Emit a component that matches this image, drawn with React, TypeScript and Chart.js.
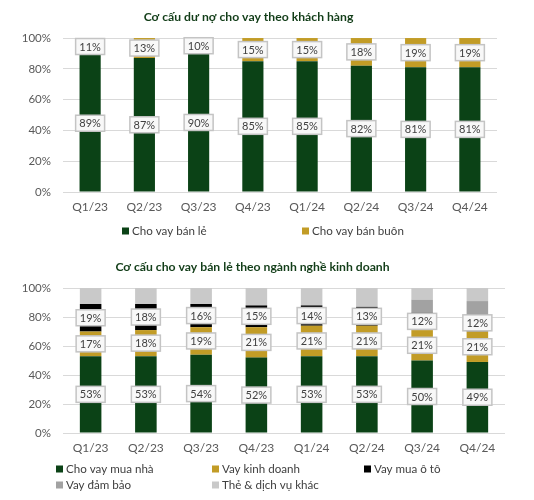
import { useEffect, useRef } from "react";
import { Chart, registerables } from "chart.js";
Chart.register(...registerables);

const FONT = "Lato, 'Open Sans', sans-serif";

const quarters = ["Q1/23", "Q2/23", "Q3/23", "Q4/23", "Q1/24", "Q2/24", "Q3/24", "Q4/24"];
const yTicks = [0, 20, 40, 60, 80, 100];

// Chart 1
const banLe = [89, 87, 90, 85, 85, 82, 81, 81];
const banBuon = [11, 13, 10, 15, 15, 18, 19, 19];

// Chart 2
const muaNha = [53, 53, 54, 52, 53, 53, 50, 49];
const kinhDoanh = [17, 18, 19, 21, 21, 21, 21, 21];
const oTo = [19, 18, 16, 15, 14, 13, 12, 12];
const damBao = [0, 0, 0, 0, 0, 0, 9, 9];
const theKhac = [11, 11, 11, 12, 12, 13, 8, 9];

const GREEN = "#0b4216";
const GOLD = "#c29c26";
const BLACK = "#000000";
const DGRAY = "#a2a2a2";
const LGRAY = "#c9c9c9";

const boxLabels = {
  id: "boxLabels",
  afterDatasetsDraw(chart: any, _args: any, opts: any) {
    const { ctx } = chart;
    const n = opts.count ?? 0;
    ctx.save();
    ctx.font = `${opts.size || 11}px ${FONT}`;
    ctx.textAlign = "center";
    ctx.textBaseline = "middle";
    chart.data.datasets.forEach((ds: any, di: number) => {
      if (di >= n) return;
      const meta = chart.getDatasetMeta(di);
      meta.data.forEach((el: any, i: number) => {
        const v = ds.data[i] as number;
        if (!v) return;
        const { x, y, base } = el.getProps(["x", "y", "base"], true);
        const cy = (y + base) / 2;
        const txt = v + "%";
        const w = Math.round(ctx.measureText(txt).width + 7);
        const h = 16;
        ctx.fillStyle = "#f8f8f8";
        ctx.fillRect(x - w / 2, cy - h / 2, w, h);
        ctx.strokeStyle = "#c4c4c4";
        ctx.lineWidth = 1.5;
        ctx.strokeRect(x - w / 2, cy - h / 2, w, h);
        ctx.fillStyle = "#404040";
        ctx.fillText(txt, x, cy + 0.5);
      });
    });
    ctx.restore();
  },
};

const gridLegend = {
  id: "gridLegend",
  afterDraw(chart: any, _args: any, opts: any) {
    const { ctx } = chart;
    const xs: number[] = opts.xs;
    const ys: number[] = opts.ys;
    ctx.save();
    ctx.font = `${opts.size || 12}px ${FONT}`;
    ctx.textAlign = "left";
    ctx.textBaseline = "middle";
    chart.data.datasets.forEach((ds: any, i: number) => {
      const col = i % xs.length;
      const row = Math.floor(i / xs.length);
      const x = xs[col];
      const y = ys[row];
      ctx.fillStyle = ds.backgroundColor;
      ctx.fillRect(x, y - 3.5, 7, 7);
      ctx.fillStyle = "#404040";
      ctx.fillText(ds.label, x + 10, y + 0.5);
    });
    ctx.restore();
  },
};

function makeConfig(
  title: string,
  datasets: any[],
  labelCount: number,
  rightPad: number,
  bottomPad: number,
  legendXs: number[],
  legendYs: number[]
): any {
  return {
    type: "bar",
    data: {
      labels: quarters,
      datasets: datasets.map((d) => ({
        ...d,
        barPercentage: 0.39,
        categoryPercentage: 1,
        borderWidth: 0,
      })),
    },
    plugins: [boxLabels, gridLegend],
    options: {
      animation: false,
      responsive: true,
      maintainAspectRatio: false,
      layout: { padding: { top: 0, left: 0, right: rightPad, bottom: bottomPad } },
      plugins: {
        legend: { display: false },
        tooltip: { enabled: false },
        title: {
          display: true,
          text: title,
          color: "#123d18",
          font: { family: FONT, size: 12.2, weight: "bold" },
          padding: { top: 10, bottom: 13.4 },
        },
        boxLabels: { count: labelCount, size: 11 },
        gridLegend: { xs: legendXs, ys: legendYs, size: 11.6 },
      },
      scales: {
        x: {
          stacked: true,
          grid: { display: false, drawTicks: false },
          border: { display: false },
          ticks: { color: "#595959", font: { family: FONT, size: 12 }, padding: 8, maxRotation: 0 },
          afterFit: (s: any) => {
            s.height = 24;
          },
        },
        y: {
          stacked: true,
          min: 0,
          max: 100,
          afterBuildTicks: (s: any) => {
            s.ticks = yTicks.map((v) => ({ value: v }));
          },
          grid: { color: "#d9d9d9", lineWidth: 1, drawTicks: false },
          border: { display: false },
          ticks: {
            color: "#595959",
            font: { family: FONT, size: 11.5 },
            padding: 12,
            callback: (v: any) => v + "%",
          },
          afterFit: (s: any) => {
            s.width = 63;
          },
        },
      },
    },
  };
}

function ChartBox({ config }: { config: any }) {
  const ref = useRef<HTMLCanvasElement>(null);
  useEffect(() => {
    if (!ref.current) return;
    const c = new Chart(ref.current, config);
    return () => c.destroy();
  }, [config]);
  return (
    <div style={{ position: "relative", width: 534, height: 250 }}>
      <canvas ref={ref} />
    </div>
  );
}

const config1 = makeConfig(
  "Cơ cấu dư nợ cho vay theo khách hàng",
  [
    { label: "Cho vay bán lẻ", data: banLe, backgroundColor: GREEN },
    { label: "Cho vay bán buôn", data: banBuon, backgroundColor: GOLD },
  ],
  2,
  37,
  34,
  [122, 302],
  [231]
);

const config2 = makeConfig(
  "Cơ cấu cho vay bán lẻ theo ngành nghề kinh doanh",
  [
    { label: "Cho vay mua nhà", data: muaNha, backgroundColor: GREEN },
    { label: "Vay kinh doanh", data: kinhDoanh, backgroundColor: GOLD },
    { label: "Vay mua ô tô", data: oTo, backgroundColor: BLACK },
    { label: "Vay đảm bảo", data: damBao, backgroundColor: DGRAY },
    { label: "Thẻ & dịch vụ khác", data: theKhac, backgroundColor: LGRAY },
  ],
  3,
  29,
  43,
  [56, 212, 364],
  [219, 235]
);

export default function App() {
  useEffect(() => {
    document.body.style.margin = "0";
  }, []);
  return (
    <div style={{ width: 534, background: "#fff" }}>
      <ChartBox config={config1} />
      <ChartBox config={config2} />
    </div>
  );
}
